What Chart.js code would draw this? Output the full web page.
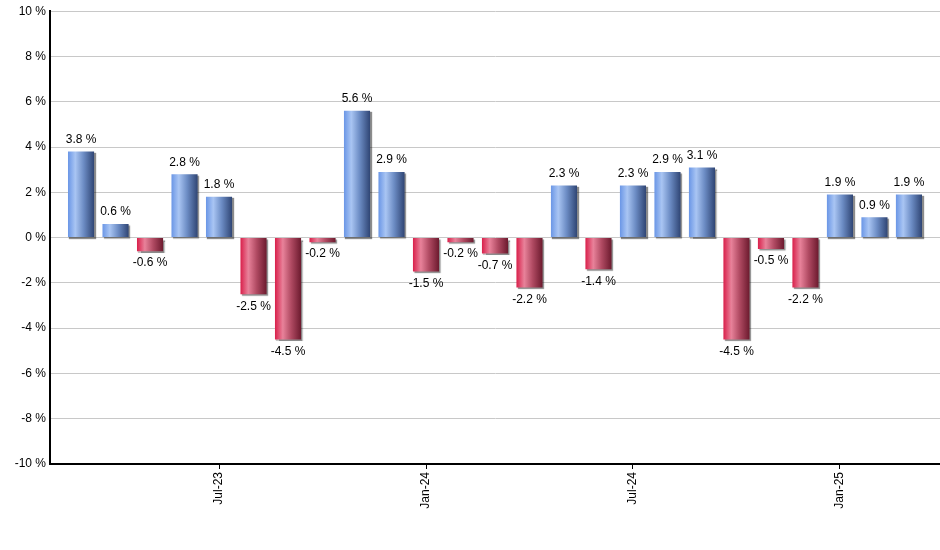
<!DOCTYPE html>
<html>
<head>
<meta charset="utf-8">
<script src="https://cdn.jsdelivr.net/npm/chart.js@4/dist/chart.umd.min.js"></script>
<style>
  html, body { margin: 0; padding: 0; background: #fff; }
  #wrap { width: 940px; height: 550px; }
</style>
</head>
<body>
<div id="wrap"><canvas id="returnsChart"></canvas></div>
<script>
// monthly returns, Mar-23 .. Mar-25
const months = ['Mar-23','Apr-23','May-23','Jun-23','Jul-23','Aug-23','Sep-23','Oct-23','Nov-23','Dec-23',
  'Jan-24','Feb-24','Mar-24','Apr-24','May-24','Jun-24','Jul-24','Aug-24','Sep-24','Oct-24','Nov-24','Dec-24',
  'Jan-25','Feb-25','Mar-25'];
const returns = [3.8, 0.6, -0.6, 2.8, 1.8, -2.5, -4.5, -0.2, 5.6, 2.9, -1.5, -0.2, -0.7, -2.2, 2.3, -1.4,
  2.3, 2.9, 3.1, -4.5, -0.5, -2.2, 1.9, 0.9, 1.9];
const tickMonths = [4, 10, 16, 22];
const yTicks = [-10, -8, -6, -4, -2, 0, 2, 4, 6, 8, 10];

const points = returns.map((v, i) => ({ x: i, y: v }));

function barGradient(ctx, left, right, positive) {
  const g = ctx.createLinearGradient(left, 0, right, 0);
  if (positive) {
    g.addColorStop(0, '#6a96e6');
    g.addColorStop(0.28, '#a9c5f3');
    g.addColorStop(0.6, '#6c8cc4');
    g.addColorStop(1, '#2f4574');
  } else {
    g.addColorStop(0, '#d91f4a');
    g.addColorStop(0.3, '#e8829a');
    g.addColorStop(0.62, '#b04a62');
    g.addColorStop(1, '#6c1a2e');
  }
  return g;
}

// paint gradients + shadow on the bars, then the value labels
const barStyle = {
  id: 'barStyle',
  beforeDatasetsDraw(chart) {
    const ctx = chart.ctx;
    chart.getDatasetMeta(0).data.forEach((bar, i) => {
      const left = bar.x - bar.width / 2;
      bar.options.backgroundColor = barGradient(ctx, left, left + bar.width, returns[i] >= 0);
    });
    ctx.save();
    ctx.shadowColor = 'rgba(0,0,0,0.45)';
    ctx.shadowOffsetX = 1.5;
    ctx.shadowOffsetY = 1.5;
    ctx.shadowBlur = 1;
  },
  afterDatasetsDraw(chart) {
    const ctx = chart.ctx;
    ctx.restore();
    ctx.save();
    ctx.font = '12px Arial, "Liberation Sans"';
    ctx.fillStyle = '#000';
    ctx.textAlign = 'center';
    chart.getDatasetMeta(0).data.forEach((bar, i) => {
      const v = returns[i];
      if (v >= 0) {
        ctx.textBaseline = 'bottom';
        ctx.fillText(v.toFixed(1) + ' %', bar.x, bar.y - 6);
      } else {
        ctx.textBaseline = 'top';
        ctx.fillText(v.toFixed(1) + ' %', bar.x, bar.y + 6);
      }
    });
    ctx.restore();
  }
};

new Chart(document.getElementById('returnsChart'), {
  type: 'bar',
  data: {
    datasets: [{
      data: points,
      backgroundColor: () => '#6a96e6',
      borderWidth: 0,
      categoryPercentage: 0.87,
      barPercentage: 0.87
    }]
  },
  options: {
    responsive: true,
    maintainAspectRatio: false,
    animation: false,
    layout: { padding: { top: 9, right: 0, left: 0, bottom: 0 } },
    plugins: { legend: { display: false }, tooltip: { enabled: false } },
    scales: {
      x: {
        type: 'linear',
        min: -0.9,
        max: 24.9,
        offset: false,
        afterBuildTicks: (scale) => {
          scale.ticks = tickMonths.map(v => ({ value: v }));
        },
        afterFit: (scale) => { scale.height = 86; },
        grid: { offset: false, drawOnChartArea: false, color: '#000', tickLength: 5, tickColor: '#000' },
        border: { color: '#000', width: 2 },
        ticks: {
          autoSkip: false,
          maxRotation: 90,
          minRotation: 90,
          color: '#000',
          font: { family: 'Arial, "Liberation Sans"', size: 12 },
          callback: (value) => months[value]
        }
      },
      y: {
        min: -10,
        max: 10,
        afterBuildTicks: (scale) => {
          scale.ticks = yTicks.map(v => ({ value: v }));
        },
        afterFit: (scale) => { scale.width = 50; },
        grid: { color: '#c8c8c8', lineWidth: 1, drawTicks: false },
        border: { color: '#000', width: 2 },
        ticks: {
          padding: 4,
          color: '#000',
          font: { family: 'Arial, "Liberation Sans"', size: 12 },
          callback: (value) => value + ' %'
        }
      }
    }
  },
  plugins: [barStyle]
});
</script>
</body>
</html>
